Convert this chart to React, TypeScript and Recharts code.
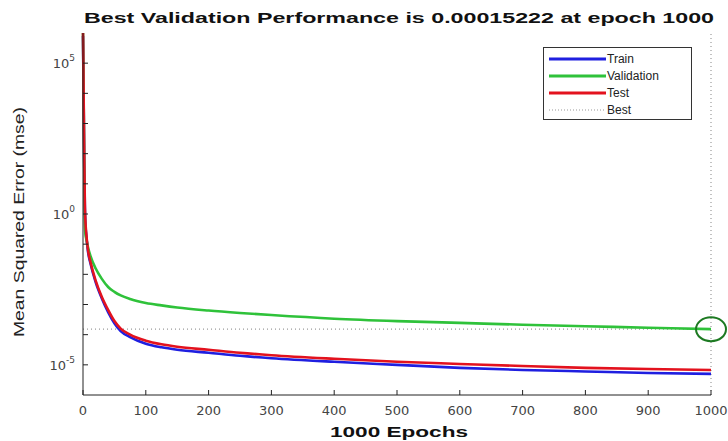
import React from 'react';
import {
  LineChart,
  Line,
  XAxis,
  YAxis,
  ReferenceLine,
  ReferenceDot,
} from 'recharts';

// epochs where the curves were sampled off the plot
const epochs = [0, 1, 2, 3, 4, 5, 8, 12, 20, 30, 40, 50, 60, 75, 100, 125, 150, 200, 250, 300, 400, 500, 600, 700, 800, 900, 1000];

// log10(mse)
const trainLog = [5.9, 3.8, 1.6, 0.2, -0.4, -0.65, -1.25, -1.65, -2.25, -2.8, -3.25, -3.62, -3.88, -4.08, -4.3, -4.42, -4.5, -4.6, -4.7, -4.78, -4.9, -5.0, -5.1, -5.17, -5.22, -5.27, -5.3];
const validationLog = [6.0, 3.9, 1.5, -0.3, -0.7, -0.8, -1.1, -1.4, -1.8, -2.15, -2.42, -2.58, -2.7, -2.82, -2.95, -3.03, -3.1, -3.2, -3.28, -3.35, -3.47, -3.55, -3.61, -3.67, -3.72, -3.77, -3.8176];
const testLog = [6.1, 4.0, 1.8, 0.3, -0.3, -0.6, -1.2, -1.6, -2.2, -2.75, -3.18, -3.55, -3.8, -4.0, -4.2, -4.32, -4.4, -4.5, -4.6, -4.68, -4.8, -4.9, -4.97, -5.04, -5.1, -5.14, -5.17];

const BEST_EPOCH = 1000;
const BEST_MSE = 0.00015222;

const xTicks = [0, 100, 200, 300, 400, 500, 600, 700, 800, 900, 1000];
const yTickExps = [-5, -4, -3, -2, -1, 0, 1, 2, 3, 4, 5];
const yTicks = yTickExps.map((e) => 10 ** e);

const SERIES = [
  { key: 'train', name: 'Train', color: '#1f1fe0' },
  { key: 'validation', name: 'Validation', color: '#2fc23a' },
  { key: 'test', name: 'Test', color: '#e3121e' },
];

const data = epochs.map((ep, i) => ({
  epoch: ep,
  train: 10 ** trainLog[i],
  validation: 10 ** validationLog[i],
  test: 10 ** testLog[i],
}));

const FONT = '"Liberation Sans", Arial, sans-serif';
const TICK_FONT = '"DejaVu Sans", sans-serif';

const YTick = (props: any) => {
  const { x, y, payload } = props;
  const exp = Math.round(Math.log10(payload.value));
  return (
    <g>
      <line x1={x} x2={x + 5} y1={y} y2={y} stroke="#222" />
      {exp % 5 === 0 && (
        <text x={x - 8} y={y + 5} textAnchor="end" fontFamily={TICK_FONT} fontSize={13} fill="#444">
          <tspan>10</tspan>
          <tspan dy={-7} fontSize={9}>{exp}</tspan>
        </text>
      )}
    </g>
  );
};

const XTick = (props: any) => {
  const { x, y, payload } = props;
  return (
    <g>
      <line x1={x} x2={x} y1={y} y2={y - 5} stroke="#222" />
      <text x={x} y={y + 20} textAnchor="middle" fontFamily={TICK_FONT} fontSize={13} fill="#444">
        {payload.value}
      </text>
    </g>
  );
};

function ChartLegend() {
  return (
    <div
      style={{
        position: 'absolute',
        left: 543,
        top: 47,
        width: 147,
        height: 71,
        border: '1px solid #333',
        background: '#fff',
      }}
    >
      <svg width={147} height={71} style={{ display: 'block' }}>
        {SERIES.map((s, i) => (
          <g key={s.key}>
            <line x1={5} x2={62} y1={11 + i * 17} y2={11 + i * 17} stroke={s.color} strokeWidth={3} />
            <text x={63} y={15 + i * 17} fontFamily={FONT} fontSize={12} fill="#222">{s.name}</text>
          </g>
        ))}
        <line x1={5} x2={62} y1={62} y2={62} stroke="#999" strokeDasharray="1 2" />
        <text x={63} y={66} fontFamily={FONT} fontSize={12} fill="#222">Best</text>
      </svg>
    </div>
  );
}

const BestCircle = (props: any) => {
  const { cx, cy } = props;
  return <ellipse cx={cx} cy={cy} rx={15} ry={12} fill="none" stroke="#1d7a22" strokeWidth={2} />;
};

export default function App() {
  return (
    <div style={{ position: 'absolute', left: 0, top: 0, width: 728, height: 441, background: '#fff' }}>
      <LineChart width={728} height={441} data={data} margin={{ top: 33, right: 17, left: 0, bottom: 0 }}>
        <text
          x={399}
          y={23}
          textAnchor="middle"
          fontFamily={FONT}
          fontWeight="bold"
          fontSize={15}
          fill="#111"
          textLength={630}
          lengthAdjust="spacingAndGlyphs"
        >
          Best Validation Performance is 0.00015222 at epoch 1000
        </text>
        <text
          x={24}
          y={222}
          textAnchor="middle"
          fontFamily={FONT}
          fontSize={14}
          fill="#222"
          transform="rotate(-90 24 222)"
          textLength={230}
          lengthAdjust="spacingAndGlyphs"
        >
          Mean Squared Error  (mse)
        </text>
        <text
          x={399}
          y={437}
          textAnchor="middle"
          fontFamily={FONT}
          fontWeight="bold"
          fontSize={15}
          fill="#111"
          textLength={138}
          lengthAdjust="spacingAndGlyphs"
        >
          1000 Epochs
        </text>
        <XAxis
          dataKey="epoch"
          type="number"
          domain={[0, 1000]}
          ticks={xTicks}
          height={46}
          tickSize={0}
          tickMargin={0}
          tickLine={false}
          tick={<XTick />}
          stroke="#222"
          interval={0}
        />
        <YAxis
          type="number"
          scale="log"
          domain={[1e-6, 1e6]}
          allowDataOverflow
          ticks={yTicks}
          width={83}
          tickSize={0}
          tickMargin={0}
          tickLine={false}
          tick={<YTick />}
          stroke="#222"
          interval={0}
        />
        <ReferenceLine y={BEST_MSE} stroke="#9a9a9a" strokeDasharray="1 3" strokeWidth={1.2} />
        <ReferenceLine x={BEST_EPOCH} stroke="#9a9a9a" strokeDasharray="1 3" strokeWidth={1.2} />
        {SERIES.map((s) => (
          <Line
            key={s.key}
            type="monotone"
            dataKey={s.key}
            name={s.name}
            stroke={s.color}
            strokeWidth={2.6}
            dot={false}
            isAnimationActive={false}
          />
        ))}
        <ReferenceDot x={BEST_EPOCH} y={BEST_MSE} ifOverflow="visible" shape={<BestCircle />} />
      </LineChart>
      <ChartLegend />
    </div>
  );
}
